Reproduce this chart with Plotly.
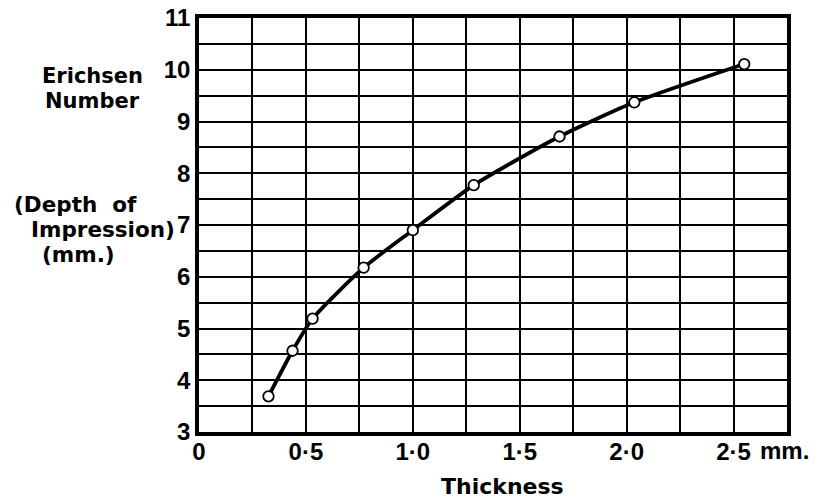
import plotly.graph_objects as go

thickness = [0.325, 0.4375, 0.531, 0.77, 1.0, 1.285, 1.686, 2.036, 2.55]
erichsen = [3.69, 4.57, 5.19, 6.175, 6.9, 7.77, 8.71, 9.37, 10.11]

x_tickvals = [0, 0.5, 1.0, 1.5, 2.0, 2.5]
x_ticktext = ["0", "0·5", "1·0", "1·5", "2·0", "2·5"]
y_tickvals = [3, 4, 5, 6, 7, 8, 9, 10, 11]
y_ticktext = ["3", "4", "5", "6", "7", "8", "9", "10", "11"]

TICKFONT = "Liberation Sans"
TEXTFONT = "DejaVu Sans"

W, H = 823, 499
L, T = 199, 18
R = W - 787
B = H - 432
pw, ph = W - L - R, H - T - B

fig = go.Figure()
fig.add_trace(go.Scatter(
    x=thickness, y=erichsen, mode="lines+markers",
    line=dict(color="black", width=3.8, shape="spline", smoothing=0.6),
    marker=dict(symbol="circle", size=10.5, color="white",
                line=dict(color="black", width=1.8)),
    showlegend=False, hoverinfo="skip",
))

fig.update_layout(
    width=W, height=H,
    margin=dict(l=L, r=R, t=T, b=B),
    paper_bgcolor="white", plot_bgcolor="white",
    font=dict(family=TICKFONT, color="black", size=22),
    xaxis=dict(
        range=[0, 2.75], tickvals=x_tickvals, ticktext=["<b>%s</b>" % t for t in x_ticktext],
        showgrid=True, gridcolor="black", gridwidth=1.5,
        minor=dict(dtick=0.25, tick0=0, showgrid=True, gridcolor="black", gridwidth=1.5),
        showline=True, linecolor="black", linewidth=3.5, mirror=True,
        ticks="", tickfont=dict(size=24, family=TICKFONT), zeroline=False,
        ticklabelstandoff=-5, ticklabeloverflow="allow",
        automargin=False,
    ),
    yaxis=dict(
        range=[3, 11], tickvals=y_tickvals, ticktext=["<b>%s</b>" % t for t in y_ticktext],
        showgrid=True, gridcolor="black", gridwidth=1.5,
        minor=dict(dtick=0.5, tick0=3, showgrid=True, gridcolor="black", gridwidth=1.5),
        showline=True, linecolor="black", linewidth=3.5, mirror=True,
        ticks="", tickfont=dict(size=24, family=TICKFONT), zeroline=False,
        ticklabeloverflow="allow",
        automargin=False,
    ),
)

def px(xp):
    return (xp - L) / pw

def py(yp):
    return 1 - (yp - T) / ph

def label(text, x, y, anchor="center", size=22, family=TEXTFONT):
    fig.add_annotation(xref="paper", yref="paper", x=px(x), y=py(y), text="<b>%s</b>" % text,
                       showarrow=False, xanchor=anchor, yanchor="middle", borderpad=0,
                       font=dict(size=size, family=family))

label("mm.", 759, 450, anchor="left", size=24, family=TICKFONT)
label("Thickness", 502, 487, size=22)
label("Erichsen", 92, 76, size=21)
label("Number", 92, 101, size=21)
label("(Depth  of", 75, 204, size=21.5)
label("Impression)", 176, 229, anchor="right", size=21.5)
label("(mm.)", 78, 254, size=21.5)

fig.write_html("out.html", config={"displayModeBar": False},
               post_script="document.body.style.margin='0px';")
